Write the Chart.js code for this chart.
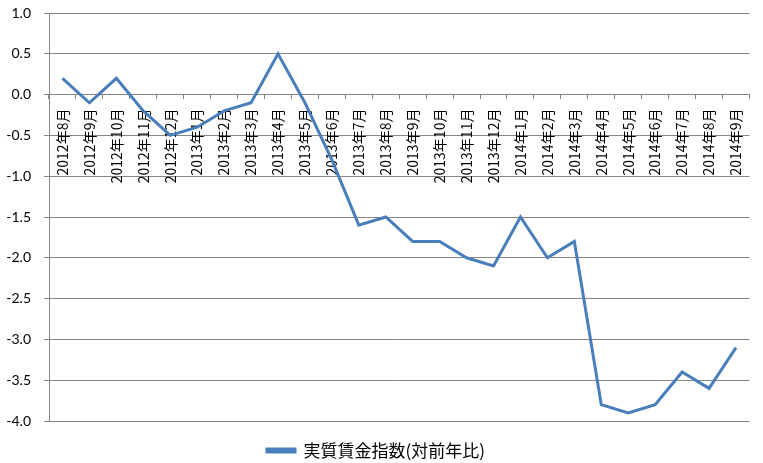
<!DOCTYPE html>
<html>
<head>
<meta charset="utf-8">
<script src="https://cdn.jsdelivr.net/npm/chart.js@4"></script>
<style>
  body { margin: 0; background: #fff; }
  #wrap { width: 763px; height: 463px; }
</style>
</head>
<body>
<div id="wrap"><canvas id="myChart"></canvas></div>
<script>
var months = ["2012年8月", "2012年9月", "2012年10月", "2012年11月", "2012年12月",
  "2013年1月", "2013年2月", "2013年3月", "2013年4月", "2013年5月", "2013年6月",
  "2013年7月", "2013年8月", "2013年9月", "2013年10月", "2013年11月", "2013年12月",
  "2014年1月", "2014年2月", "2014年3月", "2014年4月", "2014年5月", "2014年6月",
  "2014年7月", "2014年8月", "2014年9月"];
var realWage = [0.2, -0.1, 0.2, -0.2, -0.5,
  -0.4, -0.2, -0.1, 0.5, -0.1, -0.8,
  -1.6, -1.5, -1.8, -1.8, -2.0, -2.1,
  -1.5, -2.0, -1.8, -3.8, -3.9, -3.8,
  -3.4, -3.6, -3.1];
var seriesName = "実質賃金指数(対前年比)";
var yMin = -4.0, yMax = 1.0, yStep = 0.5;

var lineColor = '#4A7EBB';
var gridColor = '#868686';

var ctx = document.getElementById("myChart").getContext('2d');
var myChart = new Chart(ctx, {
  type: 'line',
  data: {
    labels: months,
    datasets: [{
      label: seriesName,
      data: realWage,
      borderColor: lineColor,
      backgroundColor: lineColor,
      borderWidth: 3,
      pointRadius: 0,
      tension: 0
    }]
  },
  options: {
    responsive: true,
    maintainAspectRatio: false,
    animation: false,
    layout: {
      padding: { left: 0, right: 11, top: 13, bottom: -6 }
    },
    scales: {
      x: {
        position: { y: 0 },
        offset: true,
        border: { color: gridColor, width: 1 },
        grid: {
          offset: true,
          drawOnChartArea: false,
          color: gridColor,
          tickLength: 4
        },
        ticks: {
          autoSkip: false,
          maxRotation: 90,
          minRotation: 90,
          padding: 10,
          color: '#000',
          font: { family: '"Noto Sans CJK JP"', size: 14 }
        }
      },
      y: {
        min: yMin,
        max: yMax,
        afterFit: function(scale) {
          scale.width = 49;
          // layout padding decides top/bottom, not the tick labels
          scale.paddingTop = 0;
          scale.paddingBottom = 0;
        },
        border: { color: gridColor, width: 1 },
        grid: { color: gridColor, tickLength: 5 },
        ticks: {
          stepSize: yStep,
          padding: 13,
          color: '#000',
          font: { family: 'Lato', size: 14 },
          callback: function(v) { return v.toFixed(1); }
        }
      }
    },
    plugins: {
      legend: {
        position: 'bottom',
        // empty title only to push the legend item down
        title: {
          display: true,
          text: '',
          padding: { top: 5, bottom: 3 },
          font: { size: 1, lineHeight: 1 }
        },
        labels: {
          boxWidth: 28,
          boxHeight: 3,
          padding: 12,
          color: '#000',
          font: { family: '"Noto Sans CJK JP"', size: 17 }
        }
      },
      tooltip: { enabled: false }
    }
  }
});
</script>
</body>
</html>
